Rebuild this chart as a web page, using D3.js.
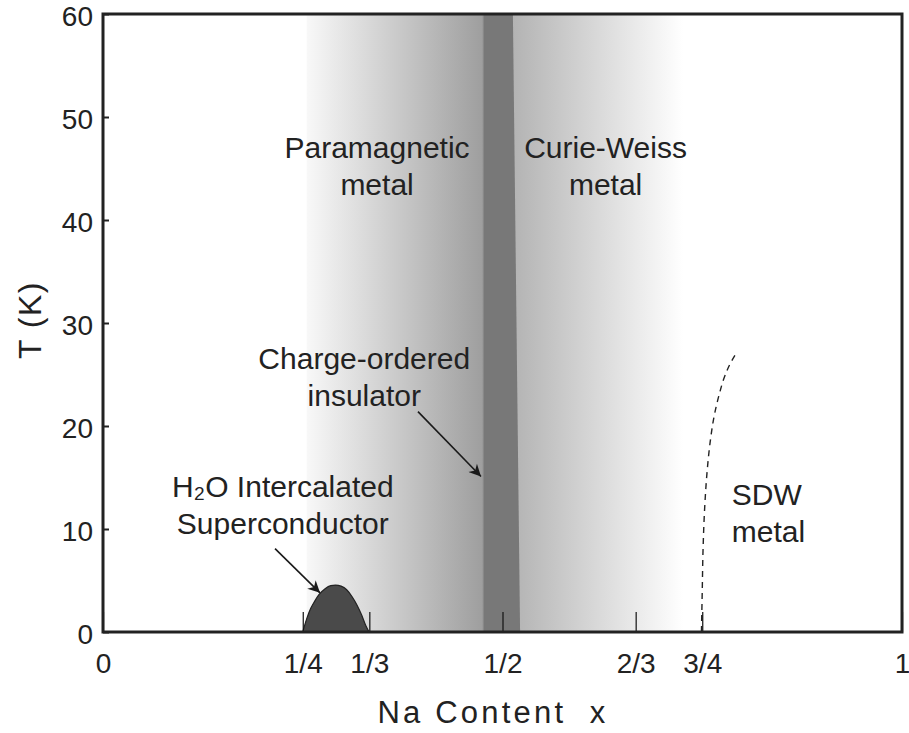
<!DOCTYPE html>
<html>
<head>
<meta charset="utf-8">
<script src="https://cdn.jsdelivr.net/npm/d3@7"></script>
<style>
  html, body { margin: 0; padding: 0; background: #fff; }
  svg { display: block; font-family: "Liberation Sans", Arial, Helvetica, sans-serif; }
</style>
</head>
<body>
<svg id="chart" width="909" height="733"></svg>
<script>
// ---- data ----
const xTickValues = [0, 1/4, 1/3, 1/2, 2/3, 3/4, 1];
const xTickLabels = ["0", "1/4", "1/3", "1/2", "2/3", "3/4", "1"];
const yTickValues = [0, 10, 20, 30, 40, 50, 60];

// shaded regions (Na content x)
const paraRegion = [0.255, 0.476];        // white -> grey
const cwRegion = [0.513, 0.726];          // grey -> white
const coBandLeft = 0.476;
const coBandRightTop = 0.513;
const coBandRightBottom = 0.522;

// superconducting dome
const domeX = [0.250, 0.255, 0.260, 0.265, 0.270, 0.278, 0.285, 0.291, 0.298, 0.305, 0.312, 0.318, 0.324, 0.329, 0.333];
const domeT = [0.0, 1.3, 2.3, 3.0, 3.6, 4.2, 4.5, 4.56, 4.45, 4.1, 3.4, 2.6, 1.6, 0.6, 0.0];

// SDW boundary (dashed)
const sdwX = [0.749, 0.750, 0.751, 0.753, 0.756, 0.760, 0.765, 0.771, 0.778, 0.786, 0.792];
const sdwT = [0, 4, 8, 12, 15.5, 18.5, 21, 23, 24.8, 26.2, 27.0];

// labels [lines, x, T, anchor]
const labelLines = [
  [["Paramagnetic", "metal"], 0.343, 46.0, "middle"],
  [["Curie-Weiss", "metal"], 0.629, 46.0, "middle"],
  [["Charge-ordered", "insulator"], 0.327, 25.5, "middle"],
  [["H\u2082O Intercalated", "Superconductor"], 0.225, 13.15, "middle"],
  [["SDW", "metal"], 0.787, 12.3, "start"]
];
// arrows [x1, T1, x2, T2]
const arrows = [
  [0.2153, 8.1, 0.2716, 3.8],
  [0.3942, 21.4, 0.4731, 15.1]
];

// ---- layout ----
const svg = d3.select("#chart");
const x = d3.scaleLinear().domain([0, 1]).range([103, 902]);
const y = d3.scaleLinear().domain([0, 60]).range([632, 14]);

const defs = svg.append("defs");
const g1 = defs.append("linearGradient").attr("id", "gPara")
  .attr("gradientUnits", "userSpaceOnUse")
  .attr("x1", x(paraRegion[0])).attr("x2", x(paraRegion[1])).attr("y1", 0).attr("y2", 0);
g1.append("stop").attr("offset", 0).attr("stop-color", "#f8f8f8");
g1.append("stop").attr("offset", 1).attr("stop-color", "#9e9e9e");
const g2 = defs.append("linearGradient").attr("id", "gCW")
  .attr("gradientUnits", "userSpaceOnUse")
  .attr("x1", x(cwRegion[0])).attr("x2", x(cwRegion[1])).attr("y1", 0).attr("y2", 0);
g2.append("stop").attr("offset", 0).attr("stop-color", "#b3b3b3");
g2.append("stop").attr("offset", 1).attr("stop-color", "#ffffff");

defs.append("marker").attr("id", "arrow")
  .attr("viewBox", "0 0 10 10").attr("refX", 10).attr("refY", 5)
  .attr("markerWidth", 16).attr("markerHeight", 12).attr("markerUnits", "userSpaceOnUse")
  .attr("orient", "auto")
  .append("path").attr("d", "M0,0 L10,5 L0,10 L3,5 Z").attr("fill", "#1a1a1a");

svg.append("rect")
  .attr("x", x(paraRegion[0])).attr("y", y(60))
  .attr("width", x(paraRegion[1]) - x(paraRegion[0]) + 1).attr("height", y(0) - y(60))
  .attr("fill", "url(#gPara)");
svg.append("rect")
  .attr("x", x(cwRegion[0]) - 2).attr("y", y(60))
  .attr("width", x(cwRegion[1]) - x(cwRegion[0]) + 2).attr("height", y(0) - y(60))
  .attr("fill", "url(#gCW)");

// charge-ordered band
const bandPts = [[coBandLeft, 60], [coBandRightTop, 60], [coBandRightBottom, 0], [coBandLeft, 0]];
svg.append("path")
  .attr("d", d3.line().x(d => x(d[0])).y(d => y(d[1]))(bandPts) + "Z")
  .attr("fill", "#787878");
svg.append("line")
  .attr("x1", x(coBandLeft)).attr("x2", x(coBandLeft)).attr("y1", y(60)).attr("y2", y(0))
  .attr("stroke", "#8a8a8a").attr("stroke-width", 1);

// dome
const domeData = domeX.map((v, i) => [v, domeT[i]]);
svg.append("path")
  .attr("d", d3.line().x(d => x(d[0])).y(d => y(d[1])).curve(d3.curveMonotoneX)(domeData))
  .attr("fill", "#4a4a4a").attr("stroke", "#222").attr("stroke-width", 1.2);

// SDW dashed line
const sdwData = sdwX.map((v, i) => [v, sdwT[i]]);
svg.append("path")
  .attr("d", d3.line().x(d => x(d[0])).y(d => y(d[1])).curve(d3.curveMonotoneY)(sdwData))
  .attr("fill", "none").attr("stroke", "#222").attr("stroke-width", 1.4)
  .attr("stroke-dasharray", "6,5");

// axes
const yAxis = d3.axisLeft(y).tickValues(yTickValues).tickSize(-6).tickPadding(10).tickFormat(d3.format("d"));
const yG = svg.append("g").attr("transform", `translate(${x(0)},0)`).call(yAxis);
yG.select(".domain").remove();
yG.selectAll(".tick line").attr("stroke", "#222").attr("stroke-width", 2);
yG.selectAll(".tick text").attr("font-size", 28).attr("fill", "#222")
  .attr("font-family", "'Liberation Sans', Arial, sans-serif").attr("dy", "0.42em");

const xAxis = d3.axisBottom(x).tickValues(xTickValues).tickSize(-20).tickPadding(21)
  .tickFormat((d, i) => xTickLabels[i]);
const xG = svg.append("g").attr("transform", `translate(0,${y(0)})`).call(xAxis);
xG.select(".domain").remove();
xG.selectAll(".tick line").attr("stroke", "#111").attr("stroke-width", 1.2);
xG.selectAll(".tick text").attr("font-size", 28).attr("fill", "#222")
  .attr("font-family", "'Liberation Sans', Arial, sans-serif");

// frame
svg.append("rect")
  .attr("x", x(0)).attr("y", y(60)).attr("width", x(1) - x(0)).attr("height", y(0) - y(60))
  .attr("fill", "none").attr("stroke", "#222").attr("stroke-width", 3);

// axis titles
svg.append("text").attr("x", 493).attr("y", 723).attr("text-anchor", "middle")
  .attr("font-size", 31).attr("letter-spacing", "3.2px").attr("fill", "#222")
  .attr("xml:space", "preserve").style("white-space", "pre")
  .text("Na Content  x");
svg.append("text").attr("transform", "translate(41,320) rotate(-90)").attr("text-anchor", "middle")
  .attr("font-size", 32).attr("letter-spacing", "1.5px").attr("fill", "#222")
  .text("T (K)");

// region labels
labelLines.forEach(([lines, lx, lt, anchor]) => {
  const t = svg.append("text").attr("x", x(lx)).attr("y", y(lt))
    .attr("text-anchor", anchor).attr("font-size", 30).attr("fill", "#222");
  lines.forEach((ln, i) => {
    t.append("tspan").attr("x", x(lx)).attr("dy", i === 0 ? 0 : 37).text(ln);
  });
});

// arrows
arrows.forEach(([x1, t1, x2, t2]) => {
  svg.append("line")
    .attr("x1", x(x1)).attr("y1", y(t1)).attr("x2", x(x2)).attr("y2", y(t2))
    .attr("stroke", "#1a1a1a").attr("stroke-width", 1.6)
    .attr("marker-end", "url(#arrow)");
});
</script>
</body>
</html>
